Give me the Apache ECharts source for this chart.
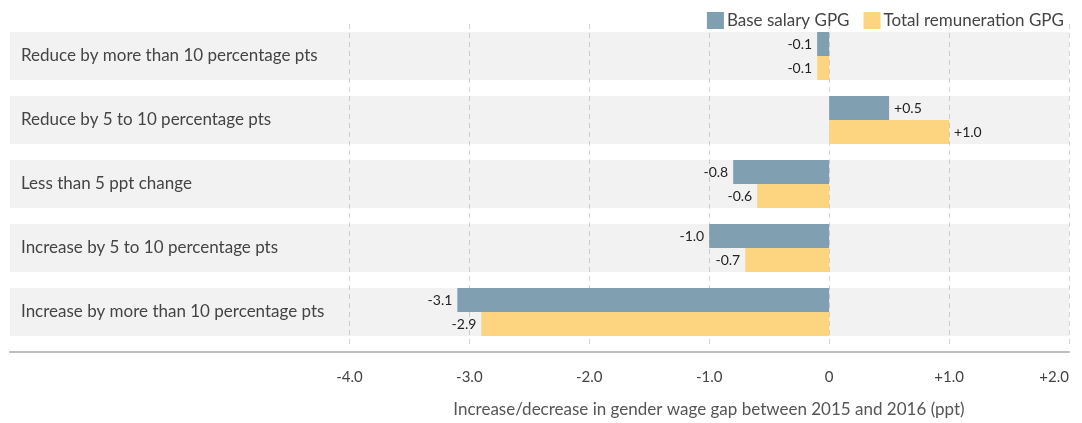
<!DOCTYPE html>
<html>
<head>
<meta charset="utf-8">
<script src="https://cdn.jsdelivr.net/npm/echarts@6/dist/echarts.min.js"></script>
<style>
  html, body { margin: 0; padding: 0; background: #fff; }
  #chart { width: 1082px; height: 423px; }
</style>
</head>
<body>
<div id="chart"></div>
<script>
// Change in the gender pay gap (ppt), grouped by how the gap moved
const categories = [
  'Reduce by more than 10 percentage pts',
  'Reduce by 5 to 10 percentage pts',
  'Less than 5 ppt change',
  'Increase by 5 to 10 percentage pts',
  'Increase by more than 10 percentage pts'
];
const baseSalaryGPG = [-0.1, 0.5, -0.8, -1.0, -3.1];
const totalRemunerationGPG = [-0.1, 1.0, -0.6, -0.7, -2.9];
const tickValues = [-4, -3, -2, -1, 0, 1, 2];

const FONT = 'Lato';
// translucent so the dashed grid shows through the row bands
const BAND = 'rgba(0,0,0,0.05)';

function fmt(v) {
  if (v === 0) return '0';
  return (v > 0 ? '+' : '') + v.toFixed(1);
}

function barData(values) {
  return values.map(v => ({
    value: v,
    label: { position: v < 0 ? 'left' : 'right' }
  }));
}

function barSeries(name, values, color) {
  return {
    name: name,
    type: 'bar',
    data: barData(values),
    barGap: '0%',
    barCategoryGap: '25%',
    itemStyle: { color: color },
    showBackground: true,
    backgroundStyle: { color: BAND },
    label: {
      show: true,
      distance: 5,
      fontFamily: FONT,
      fontSize: 14,
      color: '#222',
      formatter: p => fmt(p.value)
    }
  };
}

const chart = echarts.init(document.getElementById('chart'), null, { renderer: 'canvas' });
chart.setOption({
  animation: false,
  textStyle: { fontFamily: FONT },
  legend: {
    right: 13,
    top: 7,
    icon: 'rect',
    itemWidth: 17,
    itemHeight: 17,
    itemGap: 14,
    textStyle: { fontFamily: FONT, fontSize: 17, color: '#444', padding: [0, 0, 0, -2] },
    data: ['Base salary GPG', 'Total remuneration GPG']
  },
  grid: { left: 10, right: 13, top: 24, height: 320, containLabel: false },
  xAxis: {
    type: 'value',
    min: -6.83,
    max: 2,
    offset: 8,
    name: 'Increase/decrease in gender wage gap between 2015 and 2016 (ppt)',
    nameLocation: 'middle',
    nameGap: 49,
    nameTextStyle: { fontFamily: FONT, fontSize: 17, color: '#555', padding: [0, 0, 0, 339] },
    axisLine: { show: true, lineStyle: { color: '#bdbdbd', width: 2 } },
    axisTick: { show: false, customValues: tickValues },
    axisLabel: {
      customValues: tickValues,
      formatter: v => fmt(v),
      margin: 18,
      fontFamily: FONT,
      fontSize: 15,
      color: '#444',
      alignMaxLabel: 'right'
    },
    splitLine: { show: true, lineStyle: { color: '#d6d6d6', type: [5, 4], width: 1 } }
  },
  yAxis: {
    type: 'category',
    data: categories,
    inverse: true,
    axisLine: { show: false },
    axisTick: { show: false },
    splitLine: { show: false },
    axisLabel: {
      inside: true,
      margin: 11,
      fontFamily: FONT,
      fontSize: 17,
      color: '#444'
    },
    z: 5
  },
  series: [
    barSeries('Base salary GPG', baseSalaryGPG, '#809fb0'),
    barSeries('Total remuneration GPG', totalRemunerationGPG, '#fdd581')
  ]
});
</script>
</body>
</html>
